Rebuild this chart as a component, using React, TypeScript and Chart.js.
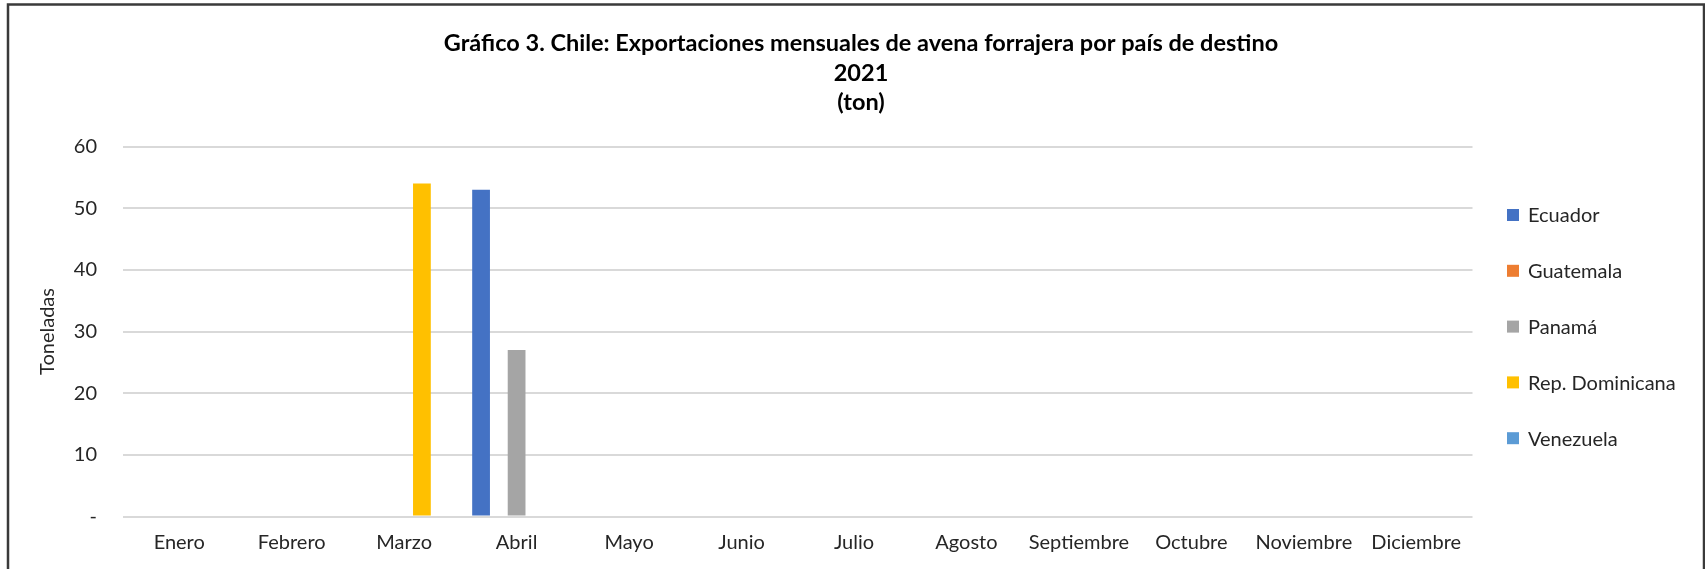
import React, { useEffect, useRef } from "react";
import { Chart, registerables } from "chart.js";

Chart.register(...registerables);

const months = [
  "Enero", "Febrero", "Marzo", "Abril", "Mayo", "Junio",
  "Julio", "Agosto", "Septiembre", "Octubre", "Noviembre", "Diciembre",
];

const ecuador = [null, null, null, 53, null, null, null, null, null, null, null, null];
const guatemala = [null, null, null, null, null, null, null, null, null, null, null, null];
const panama = [null, null, null, 27, null, null, null, null, null, null, null, null];
const repDominicana = [null, null, 54, null, null, null, null, null, null, null, null, null];
const venezuela = [null, null, null, null, null, null, null, null, null, null, null, null];

const seriesNames = ["Ecuador", "Guatemala", "Panamá", "Rep. Dominicana", "Venezuela"];
const seriesColors = ["#4472C4", "#ED7D31", "#A5A5A5", "#FFC000", "#5B9BD5"];

const titleLines = [
  "Gráfico 3. Chile: Exportaciones mensuales de avena forrajera por país de destino",
  "2021",
  "(ton)",
];
const yTitle = "Toneladas";
const yMax = 60;
const yStep = 10;

const FONT = "Lato";
const TEXT = "#262626";

const decorPlugin = {
  id: "decor",
  afterDraw(chart: any) {
    const ctx = chart.ctx;
    ctx.save();
    // outer border
    ctx.strokeStyle = "#3a3a3a";
    ctx.lineWidth = 2.5;
    ctx.strokeRect(8, 4.5, 1696, 620);
    // title
    ctx.fillStyle = "#000";
    ctx.font = `bold 23.5px ${FONT}`;
    ctx.textAlign = "center";
    ctx.textBaseline = "middle";
    const ys = [43, 73, 102];
    titleLines.forEach((t, i) => ctx.fillText(t, 861, ys[i]));
    // legend
    ctx.font = `20px ${FONT}`;
    ctx.textAlign = "left";
    chart.data.datasets.forEach((ds: any, i: number) => {
      const cy = 215 + i * 55.8;
      ctx.fillStyle = ds.backgroundColor;
      ctx.fillRect(1507, cy - 6, 12, 12);
      ctx.fillStyle = TEXT;
      ctx.fillText(ds.label, 1528, cy + 1);
    });
    ctx.restore();
  },
};

export default function App() {
  const ref = useRef<HTMLCanvasElement | null>(null);
  useEffect(() => {
    document.body.style.margin = "0";
    let chart: Chart | null = null;
    let cancelled = false;
    const build = () => {
      if (cancelled || !ref.current) return;
      const seriesData = [ecuador, guatemala, panama, repDominicana, venezuela];
      chart = new Chart(ref.current, {
        type: "bar",
        data: {
          labels: months,
          datasets: seriesNames.map((name, i) => ({
            label: name,
            data: seriesData[i] as any,
            backgroundColor: seriesColors[i],
            borderWidth: 0,
            categoryPercentage: 0.79,
            barPercentage: 1.0,
          })),
        },
        options: {
          responsive: false,
          animation: false,
          devicePixelRatio: 1,
          layout: { padding: { left: 0, top: 146.5, right: 232.5, bottom: 0 } },
          plugins: {
            legend: { display: false },
            title: { display: false },
            tooltip: { enabled: false },
          },
          scales: {
            x: {
              grid: { display: false, drawTicks: false },
              border: { display: false },
              ticks: {
                color: TEXT,
                font: { family: FONT, size: 20 },
                padding: 14,
                maxRotation: 0,
                autoSkip: false,
              },
              afterFit(scale: any) {
                scale.height = 569 - 516.5;
              },
            },
            y: {
              min: 0,
              max: yMax,
              grid: { color: "#D9D9D9", lineWidth: 2, drawTicks: false },
              border: { display: false },
              ticks: {
                stepSize: yStep,
                color: TEXT,
                font: { family: FONT, size: 20 },
                padding: 26,
                callback: (v: any) => (Number(v) === 0 ? "-" : String(v)),
              },
              title: {
                display: true,
                text: yTitle,
                color: TEXT,
                font: { family: FONT, size: 20 },
                padding: { top: 36, bottom: 0 },
              },
              afterFit(scale: any) {
                scale.width = 123;
              },
            },
          },
        },
        plugins: [decorPlugin],
      });
    };
    const fontsReady = (document as any).fonts
      ? Promise.all([
          (document as any).fonts.load(`20px ${FONT}`),
          (document as any).fonts.load(`bold 23.5px ${FONT}`),
        ]).catch(() => null)
      : Promise.resolve(null);
    fontsReady.then(build);
    return () => {
      cancelled = true;
      if (chart) chart.destroy();
    };
  }, []);
  return (
    <div style={{ width: 1705, height: 569, position: "relative", background: "#fff" }}>
      <canvas ref={ref} width={1705} height={569} style={{ display: "block", width: 1705, height: 569 }} />
    </div>
  );
}
